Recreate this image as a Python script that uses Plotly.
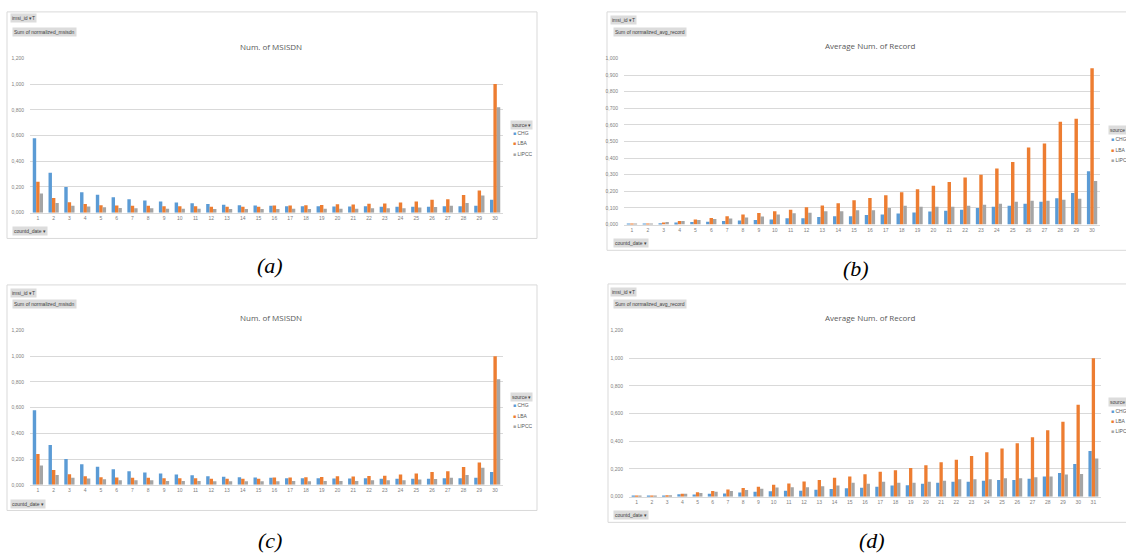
import plotly.graph_objects as go

W, H = 1126, 558

# ---------------- data ----------------
dates30 = ["1","2","3","4","5","6","7","8","9","10","11","12","13","14","15",
           "16","17","18","19","20","21","22","23","24","25","26","27","28","29","30"]
dates31 = dates30 + ["31"]

msisdn_chg = [0.58,0.31,0.20,0.16,0.14,0.12,0.105,0.095,0.087,0.080,0.074,0.067,0.062,0.059,0.056,
              0.054,0.051,0.050,0.050,0.049,0.049,0.050,0.047,0.047,0.047,0.047,0.050,0.050,0.055,0.100]
msisdn_lba = [0.24,0.115,0.082,0.067,0.059,0.056,0.054,0.054,0.050,0.050,0.050,0.047,0.047,0.047,0.047,
              0.056,0.056,0.059,0.061,0.066,0.064,0.069,0.071,0.079,0.087,0.100,0.105,0.138,0.173,1.000]
msisdn_lipcc = [0.15,0.075,0.055,0.048,0.042,0.036,0.035,0.035,0.030,0.030,0.030,0.028,0.028,0.028,0.028,
                0.028,0.030,0.028,0.030,0.030,0.030,0.035,0.035,0.035,0.040,0.045,0.055,0.075,0.133,0.820]

rec_b_chg = [0.002,0.004,0.008,0.012,0.015,0.017,0.022,0.025,0.027,0.030,0.038,0.038,0.045,0.050,0.050,
             0.058,0.060,0.067,0.073,0.079,0.083,0.089,0.100,0.107,0.113,0.125,0.137,0.159,0.190,0.321]
rec_b_lba = [0.003,0.007,0.013,0.022,0.031,0.040,0.050,0.060,0.070,0.080,0.090,0.105,0.115,0.129,0.147,
             0.160,0.177,0.194,0.212,0.234,0.256,0.284,0.300,0.337,0.377,0.464,0.488,0.619,0.637,0.940]
rec_b_lipcc = [0.002,0.007,0.015,0.022,0.027,0.033,0.037,0.042,0.048,0.060,0.068,0.072,0.080,0.080,0.087,
               0.087,0.100,0.113,0.107,0.107,0.107,0.113,0.119,0.125,0.137,0.143,0.143,0.149,0.155,0.262]

rec_d_chg = [0.002,0.003,0.006,0.017,0.015,0.020,0.022,0.030,0.035,0.038,0.042,0.042,0.050,0.055,0.060,
             0.064,0.071,0.081,0.083,0.093,0.100,0.107,0.107,0.114,0.121,0.121,0.129,0.145,0.171,0.236,0.329]
rec_d_lba = [0.002,0.005,0.010,0.021,0.031,0.040,0.052,0.062,0.071,0.086,0.095,0.110,0.121,0.136,0.145,
             0.162,0.179,0.190,0.207,0.226,0.248,0.267,0.293,0.321,0.348,0.386,0.429,0.479,0.540,0.664,1.000]
rec_d_lipcc = [0.002,0.005,0.010,0.020,0.027,0.035,0.040,0.047,0.057,0.066,0.068,0.068,0.075,0.080,0.100,
               0.093,0.107,0.100,0.100,0.107,0.114,0.126,0.126,0.126,0.133,0.133,0.140,0.145,0.160,0.164,0.276]

series_names = ["CHG", "LBA", "LIPCC"]
colors = ["#5B9BD5", "#ED7D31", "#A5A5A5"]

# ---------------- helpers ----------------
def X(px):
    return px / W

def Y(py):
    return 1 - py / H

GRID = "#D9D9D9"
TICKC = "#808080"

fig = go.Figure()

panels = [
    ("", dates30, (msisdn_chg, msisdn_lba, msisdn_lipcc), (30, 503), (212, 56), 1.2, 0.2),
    ("2", dates30, (rec_b_chg, rec_b_lba, rec_b_lipcc), (624, 1100), (224, 56), 1.0, 0.1),
    ("3", dates30, (msisdn_chg, msisdn_lba, msisdn_lipcc), (30, 503), (487, 331), 1.2, 0.2),
    ("4", dates31, (rec_d_chg, rec_d_lba, rec_d_lipcc), (629, 1101), (499, 331), 1.2, 0.2),
]

layout_axes = {}
for suf, cats, data, xd, yd, ymax, dt in panels:
    for name, vals, col in zip(series_names, data, colors):
        fig.add_trace(go.Bar(x=cats, y=vals, name=name, marker_color=col,
                             marker_line_width=0, showlegend=False,
                             xaxis="x" + suf, yaxis="y" + suf))
    layout_axes["xaxis" + suf] = dict(
        domain=[X(xd[0]), X(xd[1])], anchor="y" + suf, type="category",
        showgrid=False, showline=True, linecolor=GRID, linewidth=1,
        ticks="", tickfont=dict(size=5, color=TICKC, family="Liberation Sans"),
        fixedrange=True)
    layout_axes["yaxis" + suf] = dict(
        domain=[Y(yd[0]), Y(yd[1])], anchor="x" + suf, range=[0, ymax], dtick=dt,
        tickformat=".3f", showgrid=True, gridcolor=GRID, gridwidth=1,
        zeroline=False, showline=False, ticks="", ticklabelstandoff=5,
        tickfont=dict(size=5, color=TICKC, family="Liberation Sans"),
        fixedrange=True)

shapes = []
annotations = []

# panel frames
for x0, y0, x1, y1 in [(7, 9, 537, 238), (607, 9, 1140, 250), (7, 285, 537, 513), (608, 284, 1140, 525)]:
    shapes.append(dict(type="rect", xref="paper", yref="paper", x0=X(x0), x1=X(x1),
                       y0=Y(y1), y1=Y(y0), line=dict(color="#D9D9D9", width=1),
                       fillcolor="rgba(0,0,0,0)", layer="below"))

def button(x, y, text):
    annotations.append(dict(xref="paper", yref="paper", x=X(x), y=Y(y), text=text,
                            showarrow=False, xanchor="left", yanchor="middle",
                            bgcolor="#DCDCDC", borderpad=1,
                            font=dict(size=5, color="#404040", family="Liberation Sans")))

def title(x, y, text):
    annotations.append(dict(xref="paper", yref="paper", x=X(x), y=Y(y), text=text,
                            showarrow=False, xanchor="center", yanchor="middle",
                            font=dict(size=8, color="#595959", family="Open Sans")))

def legend(x, ys):
    button(x, ys[0], "source ▾")
    for name, col, yy in zip(series_names, colors, ys[1:]):
        annotations.append(dict(xref="paper", yref="paper", x=X(x + 1), y=Y(yy),
                                text=f'<span style="color:{col}">■</span> {name}',
                                showarrow=False, xanchor="left", yanchor="middle",
                                font=dict(size=5, color="#595959", family="Liberation Sans")))

def caption(x, y, text):
    annotations.append(dict(xref="paper", yref="paper", x=X(x), y=Y(y), text=text,
                            showarrow=False, xanchor="center", yanchor="middle",
                            font=dict(size=22, color="black", family="Liberation Serif")))

# (a)
button(10, 15, "imsi_id ▾T")
button(12, 29, "Sum of normalized_msisdn")
button(12, 230, "countd_date ▾")
title(271, 44, "Num. of MSISDN")
legend(510, [123, 131, 142, 153])
caption(270, 265, "<i>(a)</i>")

# (b)
button(610, 17, "imsi_id ▾T")
button(613, 29, "Sum of normalized_avg_record")
button(613, 243, "countd_date ▾")
title(870, 43, "Average Num. of Record")
legend(1108, [128, 137, 149, 159])
caption(856, 268, "<i>(b)</i>")

# (c)
button(10, 293, "imsi_id ▾T")
button(12, 304, "Sum of normalized_msisdn")
button(10, 506, "countd_date ▾")
title(271, 318, "Num. of MSISDN")
legend(510, [398, 406, 417, 428])
caption(270, 543, "<i>(c)</i>")

# (d)
button(610, 292, "imsi_id ▾T")
button(613, 304, "Sum of normalized_avg_record")
button(613, 518, "countd_date ▾")
title(870, 318, "Average Num. of Record")
legend(1108, [403, 412, 423, 433])
caption(872, 543, "<i>(d)</i>")

fig.update_layout(
    width=W, height=H, autosize=False,
    margin=dict(l=0, r=0, t=0, b=0),
    paper_bgcolor="white", plot_bgcolor="white",
    barmode="group", bargap=0.35, bargroupgap=0.0,
    separators=",.",
    showlegend=False,
    shapes=shapes, annotations=annotations,
    **layout_axes,
)

fig.write_html("out.html", config={"displayModeBar": False})
